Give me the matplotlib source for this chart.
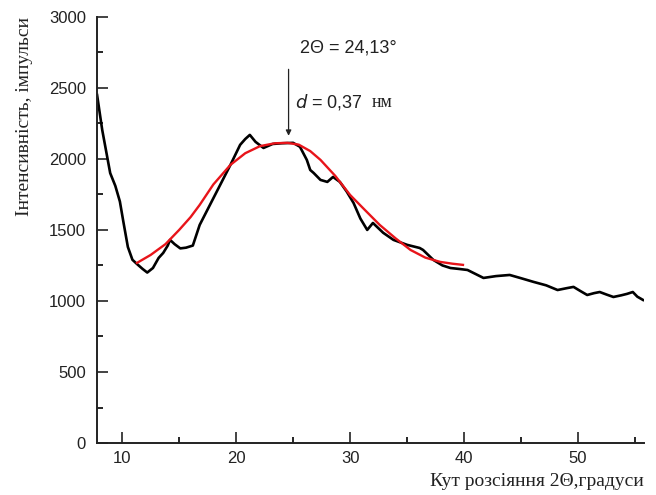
import numpy as np
import matplotlib
matplotlib.use("Agg")
import matplotlib.pyplot as plt
from matplotlib.ticker import MultipleLocator

two_theta = [7.8, 8.25, 8.95, 9.4, 9.8, 10.1, 10.5, 10.9, 11.3, 11.8, 12.2, 12.7, 13.2,
             13.6, 14.0, 14.2, 14.6, 15.1, 15.6, 16.2, 16.8, 17.7, 18.6, 19.5, 20.35,
             20.8, 21.2, 21.7, 22.4, 23.2, 24.0, 25.0, 25.6, 26.2, 26.5, 26.8, 27.4,
             28.0, 28.5, 29.1, 29.7, 30.3, 30.9, 31.5, 32.0, 32.9, 33.8, 35.0, 36.1,
             36.4, 37.3, 38.1, 38.8, 39.6, 40.3, 41.0, 41.7, 42.8, 44.0, 45.0, 46.1,
             47.2, 48.2, 49.0, 49.6, 50.2, 50.8, 51.4, 51.9, 52.5, 53.1, 53.8, 54.3,
             54.8, 55.2, 55.7]
intensity = [2450, 2204, 1900, 1810, 1700, 1560, 1380, 1290, 1260, 1225, 1200, 1232, 1303,
             1338, 1390, 1430, 1400, 1370, 1375, 1390, 1535, 1676, 1817, 1958, 2099,
             2140, 2169, 2120, 2077, 2105, 2110, 2113, 2085, 1993, 1922, 1901, 1852,
             1838, 1873, 1838, 1770, 1690, 1580, 1500, 1549, 1480, 1430, 1395, 1373,
             1359, 1289, 1250, 1232, 1225, 1218, 1190, 1162, 1175, 1183, 1160, 1134,
             1110, 1077, 1090, 1099, 1070, 1042, 1055, 1063, 1045, 1028, 1040, 1050,
             1063, 1030, 1007]

# Fitted peak (red curve).
fit_x = [11.3, 12.5, 13.8, 15.0, 16.0, 16.8, 18.0, 19.5, 20.8, 22.1, 23.4, 24.5,
         25.5, 26.5, 27.4, 28.7, 30.0, 31.3, 32.6, 34.0, 35.3, 36.6, 37.9, 39.0, 39.9]
fit_y = [1268, 1324, 1400, 1500, 1590, 1676, 1820, 1958, 2040, 2090, 2110, 2113,
         2100, 2055, 1993, 1880, 1746, 1640, 1535, 1440, 1359, 1305, 1275, 1262, 1254]

peak_x = 24.6
peak_y = 2113

plt.rcParams["font.family"] = ["Liberation Sans", "DejaVu Sans"]

fig = plt.figure(figsize=(6.56, 4.95), dpi=100)
ax = fig.add_axes([0.148, 0.105, 0.834, 0.861])

ax.plot(two_theta, intensity, color="black", lw=1.9)
ax.plot(fit_x, fit_y, color="#e8141a", lw=1.7)

ax.set_xlim(7.8, 55.8)
ax.set_ylim(0, 3000)
ax.xaxis.set_major_locator(MultipleLocator(10))
ax.xaxis.set_minor_locator(MultipleLocator(5))
ax.yaxis.set_major_locator(MultipleLocator(500))
ax.yaxis.set_minor_locator(MultipleLocator(250))
ax.tick_params(which="major", direction="in", length=8, width=1.2, labelsize=12, colors="#222222", pad=6)
ax.tick_params(which="minor", direction="in", length=4, width=1.2)
ax.tick_params(axis="y", pad=8)

for s in ["top", "right"]:
    ax.spines[s].set_visible(False)
for s in ["left", "bottom"]:
    ax.spines[s].set_linewidth(1.4)
    ax.spines[s].set_color("#222222")

ax.set_xlabel("Кут розсіяння 2Θ,градуси", family=["Liberation Serif"], fontsize=14, color="#222222")
ax.xaxis.set_label_coords(1.0, -0.07)
ax.xaxis.label.set_horizontalalignment("right")
ax.set_ylabel("Інтенсивність, імпульси", family=["Liberation Serif"], fontsize=14, color="#222222")
ax.yaxis.set_label_coords(-0.117, 0.765)

ax.annotate("", xy=(peak_x, peak_y + 30), xytext=(peak_x, 2650),
            arrowprops=dict(arrowstyle="-|>", color="#222222", lw=0.9, mutation_scale=8))
ax.text(25.6, 2780, "2Θ = 24,13°", fontsize=13, color="#222222", va="center")
ax.text(25.2, 2400, "$\\it{d}$ = 0,37", fontsize=13, color="#222222", va="center")
ax.text(31.9, 2400, "нм", family=["Liberation Serif"], fontsize=13, color="#222222", va="center")

fig.savefig("out.png", dpi=100)
